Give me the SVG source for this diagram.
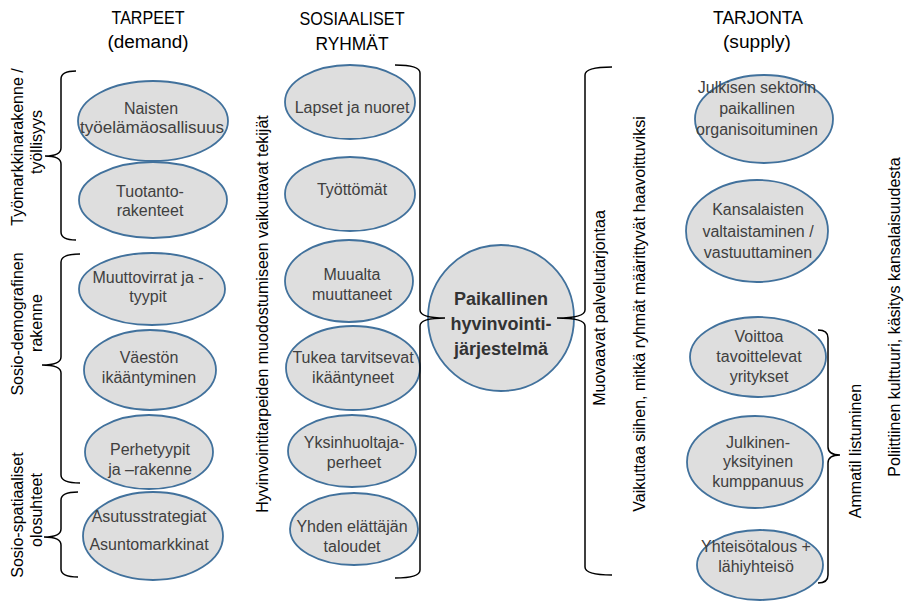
<svg xmlns="http://www.w3.org/2000/svg" width="908" height="606" viewBox="0 0 908 606">
<style>
text{font-family:"Liberation Sans",Arial,sans-serif;}
.node ellipse,.node circle{fill:#dedede;stroke:#41719c;stroke-width:1.8;}
.nt{font-size:16px;fill:#404040;text-anchor:middle;}
.ct{font-size:18px;font-weight:bold;fill:#333;text-anchor:middle;}
.title{font-size:18px;fill:#000;text-anchor:middle;}
.lbl{font-size:16px;fill:#000;text-anchor:middle;}
.brace{fill:none;stroke:#000;stroke-width:1.5;}
</style>
<rect width="908" height="606" fill="#fff"/>

<g id="titles">
<text class="title" x="148" y="24" textLength="73" lengthAdjust="spacingAndGlyphs">TARPEET</text>
<text class="title" x="148" y="48" textLength="81" lengthAdjust="spacingAndGlyphs">(demand)</text>
<text class="title" x="352" y="25" textLength="105" lengthAdjust="spacingAndGlyphs">SOSIAALISET</text>
<text class="title" x="352" y="50" textLength="73" lengthAdjust="spacingAndGlyphs">RYHMÄT</text>
<text class="title" x="758" y="24" textLength="90" lengthAdjust="spacingAndGlyphs">TARJONTA</text>
<text class="title" x="757" y="48" textLength="68" lengthAdjust="spacingAndGlyphs">(supply)</text>
</g>

<g id="n-naisten" class="node"><ellipse cx="153" cy="121" rx="75" ry="40"/><text class="nt" x="151" y="114">Naisten</text><text class="nt" x="152" y="133" textLength="144" lengthAdjust="spacingAndGlyphs">työelämäosallisuus</text></g>
<g id="n-tuotanto" class="node"><ellipse cx="153" cy="200" rx="74" ry="38"/><text class="nt" x="150" y="197">Tuotanto-</text><text class="nt" x="150" y="216">rakenteet</text></g>
<g id="n-muuttovirrat" class="node"><ellipse cx="152" cy="289" rx="73" ry="36"/><text class="nt" x="148" y="283">Muuttovirrat ja -</text><text class="nt" x="148" y="302">tyypit</text></g>
<g id="n-vaeston" class="node"><ellipse cx="150" cy="370" rx="66" ry="40"/><text class="nt" x="149" y="363">Väestön</text><text class="nt" x="149" y="383">ikääntyminen</text></g>
<g id="n-perhetyypit" class="node"><ellipse cx="149" cy="452" rx="64" ry="37"/><text class="nt" x="150" y="455">Perhetyypit</text><text class="nt" x="150" y="475">ja –rakenne</text></g>
<g id="n-asutus" class="node"><ellipse cx="153" cy="536" rx="70" ry="44"/><text class="nt" x="149" y="522">Asutusstrategiat</text><text class="nt" x="149" y="550">Asuntomarkkinat</text></g>

<g id="n-lapset" class="node"><ellipse cx="350" cy="102" rx="65" ry="37"/><text class="nt" x="352" y="113">Lapset ja nuoret</text></g>
<g id="n-tyottomat" class="node"><ellipse cx="350" cy="194" rx="65" ry="37"/><text class="nt" x="352" y="195">Työttömät</text></g>
<g id="n-muualta" class="node"><ellipse cx="349" cy="281" rx="64" ry="41"/><text class="nt" x="352" y="280">Muualta</text><text class="nt" x="352" y="300">muuttaneet</text></g>
<g id="n-tukea" class="node"><ellipse cx="353" cy="368" rx="67" ry="42"/><text class="nt" x="353" y="363">Tukea tarvitsevat</text><text class="nt" x="353" y="383">ikääntyneet</text></g>
<g id="n-yksinhuoltaja" class="node"><ellipse cx="352" cy="451" rx="64" ry="36"/><text class="nt" x="354" y="448">Yksinhuoltaja-</text><text class="nt" x="354" y="468">perheet</text></g>
<g id="n-yhden" class="node"><ellipse cx="354" cy="529" rx="64" ry="36"/><text class="nt" x="352" y="532">Yhden elättäjän</text><text class="nt" x="352" y="552">taloudet</text></g>

<g id="n-paikallinen" class="node"><circle cx="501" cy="318" r="73"/><text class="ct" x="501" y="305">Paikallinen</text><text class="ct" x="501" y="330">hyvinvointi-</text><text class="ct" x="501" y="355">järjestelmä</text></g>

<g id="n-julkisen" class="node"><ellipse cx="764" cy="119" rx="69" ry="44"/><text class="nt" x="757" y="93">Julkisen sektorin</text><text class="nt" x="757" y="114">paikallinen</text><text class="nt" x="757" y="135">organisoituminen</text></g>
<g id="n-kansalaisten" class="node"><ellipse cx="757" cy="231" rx="71" ry="51"/><text class="nt" x="758" y="215">Kansalaisten</text><text class="nt" x="758" y="237">valtaistaminen /</text><text class="nt" x="758" y="258">vastuuttaminen</text></g>
<g id="n-voittoa" class="node"><ellipse cx="758" cy="357" rx="68" ry="40"/><text class="nt" x="759" y="342">Voittoa</text><text class="nt" x="759" y="362">tavoittelevat</text><text class="nt" x="759" y="382">yritykset</text></g>
<g id="n-julkinen" class="node"><ellipse cx="755" cy="462" rx="68" ry="46"/><text class="nt" x="758" y="448">Julkinen-</text><text class="nt" x="758" y="467">yksityinen</text><text class="nt" x="758" y="487">kumppanuus</text></g>
<g id="n-yhteiso" class="node"><ellipse cx="760" cy="565" rx="63" ry="35"/><text class="nt" x="756" y="552">Yhteisötalous +</text><text class="nt" x="756" y="572">lähiyhteisö</text></g>

<g id="connectors">
<path class="brace" d="M76,71 Q61,71 61,79 L61,148 Q61,156 45,156 Q61,156 61,164 L61,232 Q61,240 76,240"/>
<path class="brace" d="M80,254 Q61,254 61,262 L61,357 Q61,365 42,365 Q61,365 61,373 L61,475 Q61,483 80,483"/>
<path class="brace" d="M78,492 Q61,492 61,500 L61,529 Q61,537 44,537 Q61,537 61,545 L61,569 Q61,577 78,577"/>
<path class="brace" d="M395,65 Q420,65 420,73 L420,310 Q420,318 445,318 Q420,318 420,326 L420,570 Q420,578 395,578"/>
<path class="brace" d="M612,67 Q585,67 585,75 L585,310 Q585,318 557,318 Q585,318 585,326 L585,567 Q585,575 612,575"/>
<path class="brace" d="M818,330 Q828,330 828,338 L828,447 Q828,455 840,455 Q828,455 828,463 L828,575 Q828,583 818,583"/>
</g>

<g id="labels">
<text class="lbl" transform="translate(23,147) rotate(-90)">Työmarkkinarakenne /</text>
<text class="lbl" transform="translate(42,142) rotate(-90)">työllisyys</text>
<text class="lbl" transform="translate(23,324) rotate(-90)">Sosio-demografinen</text>
<text class="lbl" transform="translate(42,323) rotate(-90)">rakenne</text>
<text class="lbl" transform="translate(23,515) rotate(-90)">Sosio-spatiaaliset</text>
<text class="lbl" transform="translate(42,510) rotate(-90)">olosuhteet</text>
<text class="lbl" transform="translate(268,314) rotate(-90)">Hyvinvointitarpeiden muodostumiseen vaikuttavat tekijät</text>
<text class="lbl" transform="translate(605,308) rotate(-90)">Muovaavat palvelutarjontaa</text>
<text class="lbl" transform="translate(645,314) rotate(-90)">Vaikuttaa siihen, mitkä ryhmät määrittyvät haavoittuviksi</text>
<text class="lbl" transform="translate(861,451) rotate(-90)">Ammatil listuminen</text>
<text class="lbl" transform="translate(900,317) rotate(-90)">Poliittiinen kulttuuri, käsitys kansalaisuudesta</text>
</g>
</svg>
